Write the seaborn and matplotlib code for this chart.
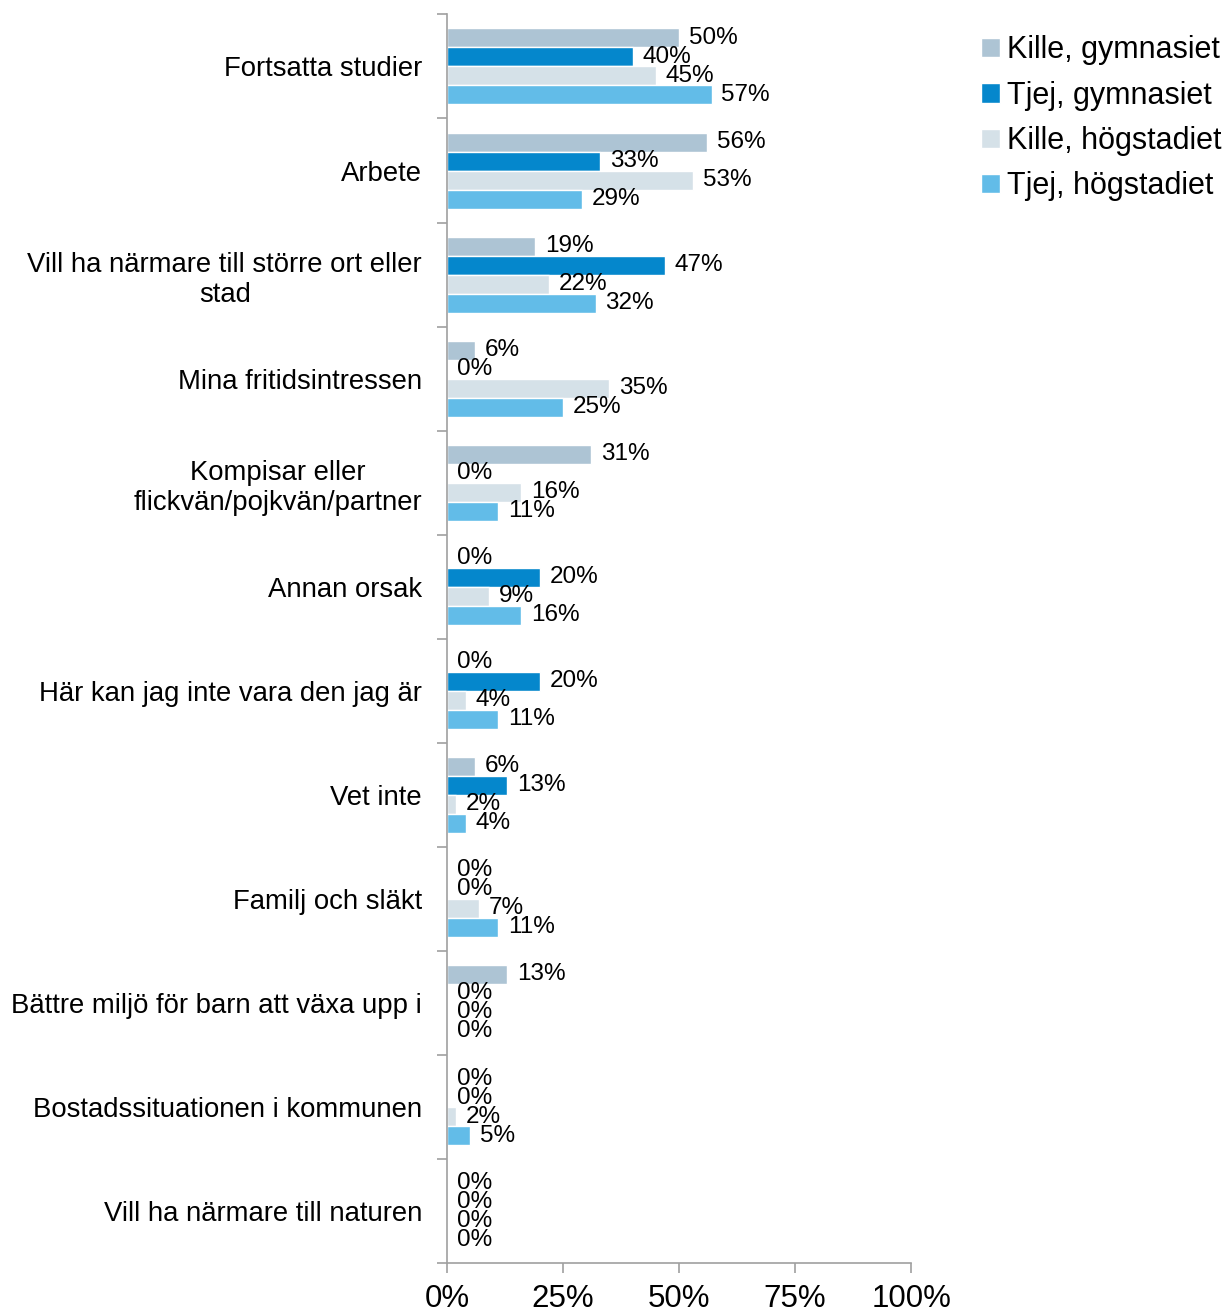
import pandas as pd
import seaborn as sns
import matplotlib.pyplot as plt
from matplotlib.ticker import PercentFormatter

# Data
categories = [
    'Fortsatta studier',
    'Arbete',
    'Vill ha närmare till större ort eller\nstad',
    'Mina fritidsintressen',
    'Kompisar eller\nflickvän/pojkvän/partner',
    'Annan orsak',
    'Här kan jag inte vara den jag är',
    'Vet inte',
    'Familj och släkt',
    'Bättre miljö för barn att växa upp i',
    'Bostadssituationen i kommunen',
    'Vill ha närmare till naturen',
]
series = ['Kille, gymnasiet', 'Tjej, gymnasiet', 'Kille, högstadiet', 'Tjej, högstadiet']
kille_gymnasiet = [50, 56, 19, 6, 31, 0, 0, 6, 0, 13, 0, 0]
tjej_gymnasiet = [40, 33, 47, 0, 0, 20, 20, 13, 0, 0, 0, 0]
kille_hogstadiet = [45, 53, 22, 35, 16, 9, 4, 2, 7, 0, 2, 0]
tjej_hogstadiet = [57, 29, 32, 25, 11, 16, 11, 4, 11, 0, 5, 0]
colors = ['#adc4d4', '#0587cc', '#d5e1e8', '#62bce8']

rows = []
for name, vals in zip(series, [kille_gymnasiet, tjej_gymnasiet, kille_hogstadiet, tjej_hogstadiet]):
    for cat, v in zip(categories, vals):
        rows.append({'Orsak': cat, 'Grupp': name, 'Andel': v})
df = pd.DataFrame(rows)

sns.set_style('white')
plt.rcParams['font.family'] = ['Liberation Sans', 'DejaVu Sans']
plt.rcParams['text.color'] = 'black'

fig = plt.figure(figsize=(12.28, 13.13), dpi=100)
ax = fig.add_axes([0.364, 0.038, 0.378, 0.951])

sns.barplot(data=df, y='Orsak', x='Andel', hue='Grupp', order=categories,
            hue_order=series, palette=colors, orient='h', width=0.73,
            saturation=1, ax=ax, legend=True, errorbar=None)

# value labels (zeros stack on each other like in the original)
for cont in ax.containers:
    ax.bar_label(cont, labels=[f'{v:.0f}%' for v in cont.datavalues],
                 padding=7, fontsize=17.5, color='black')

ax.set_xlim(0, 100)
ax.set_xticks([0, 25, 50, 75, 100])
ax.xaxis.set_major_formatter(PercentFormatter(decimals=0))
ax.set_ylim(len(categories) - 0.5, -0.5)
ax.set_yticks([i - 0.5 for i in range(len(categories) + 1)], minor=True)
ax.tick_params(axis='y', which='major', left=False, length=0, pad=18,
               labelsize=19.8, labelcolor='black')
ax.tick_params(axis='y', which='minor', left=True, length=7, width=1.2,
               color='#a0a0a0', direction='out')
ax.tick_params(axis='x', bottom=True, length=7, width=1.2, color='#a0a0a0',
               direction='out', labelsize=22.5, pad=8, labelcolor='black')
for lab in ax.get_yticklabels():
    lab.set_horizontalalignment('right')
    lab.set_multialignment('center')
ax.set_xlabel('')
ax.set_ylabel('')

for side in ['top', 'right']:
    ax.spines[side].set_visible(False)
for side in ['left', 'bottom']:
    ax.spines[side].set_color('#a0a0a0')
    ax.spines[side].set_linewidth(1.2)

handles, labels = ax.get_legend_handles_labels()
ax.legend_.remove()
fig.legend(handles, labels, loc='upper left', bbox_to_anchor=(0.799, 0.973),
           frameon=False, fontsize=22, handlelength=0.6, handleheight=0.6,
           handletextpad=0.25, labelspacing=0.5, borderaxespad=0,
           borderpad=0)

plt.savefig('out.png', dpi=100)
plt.close()
